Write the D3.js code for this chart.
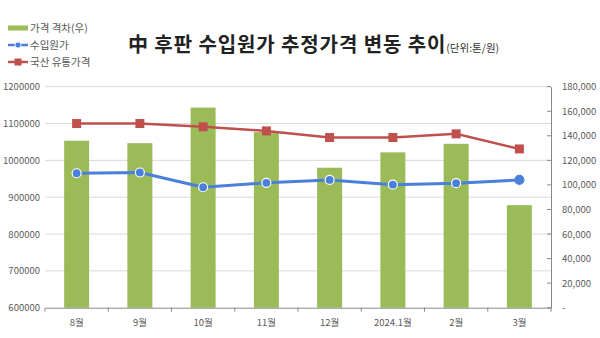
<!DOCTYPE html>
<html><head><meta charset="utf-8">
<script src="https://cdn.jsdelivr.net/npm/d3@7/dist/d3.min.js"></script>
<style>body{margin:0;background:#fff}svg{display:block}</style>
</head><body>
<svg id="c" width="600" height="338"></svg>
<script>
const categories = ["8월","9월","10월","11월","12월","2024.1월","2월","3월"];
const gapValues = [136000,134000,163000,143000,114000,126500,133500,83500];
const importCost = [965000,967000,927000,939000,947000,934000,938000,947000];
const domesticPrice = [1100000,1100000,1091000,1080000,1062000,1062000,1072000,1031000];
const leftTicks = [600000,700000,800000,900000,1000000,1100000,1200000];
const rightTicks = [0,20000,40000,60000,80000,100000,120000,140000,160000,180000];
const legendLabels = ["가격 격차(우)","수입원가","국산 유통가격"];

const svg = d3.select("#c");
const font = "'Noto Sans CJK KR','Noto Sans',sans-serif";
const m = {l:45, r:551, t:86.7, b:307.7};
const x = d3.scaleBand().domain(categories).range([m.l, m.r]).paddingInner(0).paddingOuter(0);
const yL = d3.scaleLinear().domain([600000,1200000]).range([m.b, m.t]);
const yR = d3.scaleLinear().domain([0,180000]).range([m.b, m.t]);
const green="#9BBB59", blue="#4A7FDB", red="#C0504D", txt="#595959";

// gridlines
svg.append("g").selectAll("line").data(leftTicks.slice(1)).join("line")
  .attr("x1",m.l).attr("x2",m.r).attr("y1",d=>yL(d)).attr("y2",d=>yL(d))
  .attr("stroke","#d9d9d9").attr("stroke-width",1);

// bars
const bw = 25;
svg.append("g").selectAll("rect").data(gapValues).join("rect")
  .attr("x",(d,i)=>x(categories[i])+x.bandwidth()/2-bw/2)
  .attr("width",bw)
  .attr("y",d=>yR(d)).attr("height",d=>yR(0)-yR(d))
  .attr("fill",green);

// x axis
const xa = svg.append("g").attr("transform",`translate(0,${m.b})`)
  .call(d3.axisBottom(x).tickSize(0).tickPadding(12));
xa.select(".domain").attr("stroke","#888");
xa.selectAll("text").attr("fill",txt).style("font-family",font).style("font-size","9.5px");
// boundary ticks
const bounds = categories.map(c=>x(c)).concat([m.r]);
svg.append("g").selectAll("line").data(bounds).join("line")
  .attr("x1",d=>d).attr("x2",d=>d).attr("y1",m.b).attr("y2",m.b+4).attr("stroke","#888");

// left axis
const la = svg.append("g").attr("transform",`translate(${m.l},0)`)
  .call(d3.axisLeft(yL).tickValues(leftTicks).tickFormat(d3.format("d")).tickSize(0).tickPadding(5));
la.select(".domain").remove();
la.selectAll("text").attr("fill",txt).style("font-family",font).style("font-size","9.5px");

// right axis
const ra = svg.append("g").attr("transform",`translate(${m.r},0)`)
  .call(d3.axisRight(yR).tickValues(rightTicks).tickFormat(d=>d===0?"-":d3.format(",")(d)).tickSize(0).tickPadding(11));
ra.select(".domain").attr("stroke","#888");
ra.selectAll("text").attr("fill",txt).style("font-family",font).style("font-size","9.5px");
svg.append("g").selectAll("line").data(rightTicks).join("line")
  .attr("x1",m.r-4).attr("x2",m.r).attr("y1",d=>yR(d)).attr("y2",d=>yR(d)).attr("stroke","#888");

const cx = i => x(categories[i]) + x.bandwidth()/2;
// red line
svg.append("path").datum(domesticPrice)
  .attr("d",d3.line().x((d,i)=>cx(i)).y(d=>yL(d)))
  .attr("fill","none").attr("stroke",red).attr("stroke-width",2.5);
svg.append("g").selectAll("rect").data(domesticPrice).join("rect")
  .attr("x",(d,i)=>cx(i)-4.5).attr("y",d=>yL(d)-4.5).attr("width",9).attr("height",9)
  .attr("fill",red);
// blue line
svg.append("path").datum(importCost)
  .attr("d",d3.line().x((d,i)=>cx(i)).y(d=>yL(d)))
  .attr("fill","none").attr("stroke",blue).attr("stroke-width",3);
svg.append("g").selectAll("circle").data(importCost).join("circle")
  .attr("cx",(d,i)=>cx(i)).attr("cy",d=>yL(d)).attr("r",4.5)
  .attr("fill",blue).attr("stroke",(d,i)=>i===importCost.length-1?blue:"#fff").attr("stroke-width",1.2);

// legend
const lg = svg.append("g");
const ly = [28,45,62];
lg.append("rect").attr("x",8).attr("y",ly[0]-2.5).attr("width",20).attr("height",5).attr("fill",green);
lg.append("line").attr("x1",8).attr("x2",28).attr("y1",ly[1]).attr("y2",ly[1]).attr("stroke",blue).attr("stroke-width",2.5);
lg.append("circle").attr("cx",18).attr("cy",ly[1]).attr("r",3).attr("fill",blue).attr("stroke","#fff").attr("stroke-width",0.8);
lg.append("line").attr("x1",8).attr("x2",28).attr("y1",ly[2]).attr("y2",ly[2]).attr("stroke",red).attr("stroke-width",2.5);
lg.append("rect").attr("x",14.5).attr("y",ly[2]-3.5).attr("width",7).attr("height",7).attr("fill",red);
lg.selectAll("text").data(legendLabels).join("text")
  .attr("x",30).attr("y",(d,i)=>ly[i]).attr("dy","0.35em")
  .attr("fill",txt).style("font-family",font).style("font-size","10.5px").text(d=>d);

// title
const t = svg.append("text").attr("x",128).attr("y",52).style("font-family",font).attr("fill","#222");
t.append("tspan").style("font-size","20px").style("font-weight","bold").style("letter-spacing","0.9px").text("中 후판 수입원가 추정가격 변동 추이");
t.append("tspan").style("font-size","10.5px").attr("fill","#333").text("(단위:톤/원)");
</script>
</body></html>
